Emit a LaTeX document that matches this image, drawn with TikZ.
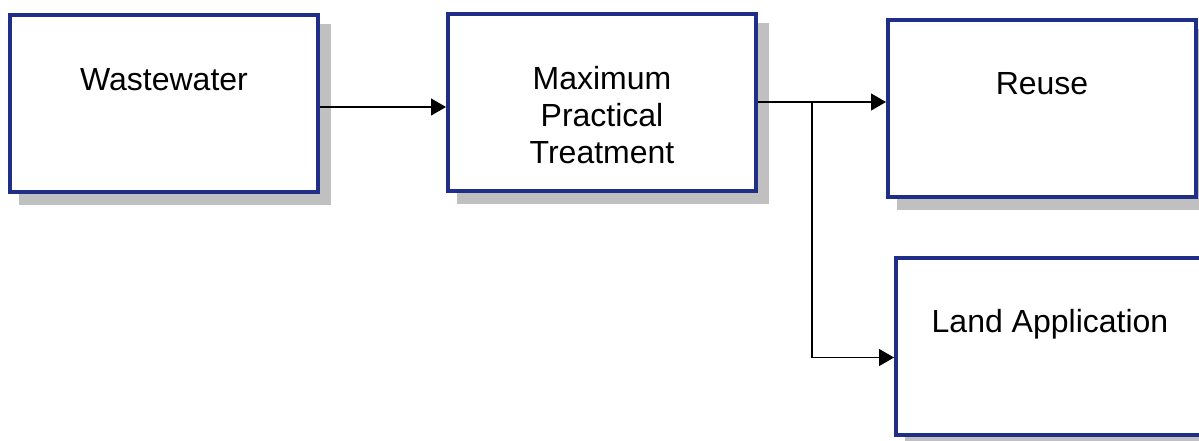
\documentclass[tikz,border=0pt]{standalone}
\usepackage{fontspec}
\setmainfont{Liberation Sans}
\usetikzlibrary{positioning,shadows,arrows.meta}
\definecolor{boxblue}{RGB}{31,46,134}
\definecolor{shadowgray}{RGB}{192,192,192}

\begin{document}
\begin{tikzpicture}[
  x=0.5pt, y=-0.5pt,
  font=\fontsize{16pt}{18.5pt}\selectfont,
  boxnode/.style={rectangle, draw=boxblue, line width=2pt, fill=white, minimum width=154pt, minimum height=88.5pt,
    drop shadow={shadow xshift=5.5pt, shadow yshift=-5.5pt, fill=shadowgray, draw=shadowgray, line width=2pt, opacity=1}},
  oneline/.style={text height=11.5pt, text depth=25pt},
  flow/.style={line width=0.6pt, -{Triangle[length=7.5pt, width=8.5pt]}}
  ]
  \useasboundingbox (0,0) rectangle (1199,440);

  % Boxes
  \node[boxnode, oneline]  (waste)                                    at (164,103.5) {Wastewater};
  \node[boxnode, align=center, text height=61pt, text depth=0pt] (treat) [right=63pt of waste, yshift=0.75pt] {Maximum\\Practical\\Treatment};
  \node[boxnode, oneline]  (reuse)    [right=64pt of treat, yshift=-3pt]   {Reuse};
  \node[boxnode, oneline]  (land)     [below=28.5pt of reuse, xshift=4pt]  {Land Application};

  % Connectors
  \coordinate (split) at ([xshift=27pt]treat.east);
  \draw[flow] ([yshift=-1.75pt]waste.east) -- ([yshift=-1.75pt]waste.east -| treat.west);
  \draw[flow] (treat.east) -- (treat.east -| reuse.west);
  \draw[flow] (split) |- ([yshift=-5.75pt]land.west);
\end{tikzpicture}
\end{document}
